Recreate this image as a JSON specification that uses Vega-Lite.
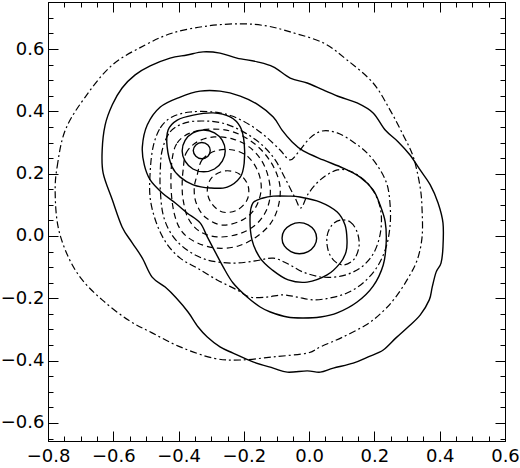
{
"$schema": "https://vega.github.io/schema/vega-lite/v6.json",
"width": 457, "height": 439,
"autosize": "none",
"padding": {"left": 48, "top": 2, "right": 15, "bottom": 27},
"background": "white",
"config": {"view": {"stroke": "black", "strokeWidth": 1},
  "axis": {"grid": false, "title": null, "domainColor": "black", "tickColor": "black", "tickWidth": 1, "labelFont": "DejaVu Sans", "labelFontSize": 18, "labelColor": "black", "labelOverlap": false, "labelFlush": false}},
"data": {"values": [
{"c":"S1","s":"solid","i":0,"x":-0.631,"y":0.202},{"c":"S1","s":"solid","i":1,"x":-0.634,"y":0.276},{"c":"S1","s":"solid","i":2,"x":-0.625,"y":0.356},{"c":"S1","s":"solid","i":3,"x":-0.603,"y":0.421},{"c":"S1","s":"solid","i":4,"x":-0.573,"y":0.475},{"c":"S1","s":"solid","i":5,"x":-0.533,"y":0.517},{"c":"S1","s":"solid","i":6,"x":-0.487,"y":0.546},{"c":"S1","s":"solid","i":7,"x":-0.426,"y":0.571},{"c":"S1","s":"solid","i":8,"x":-0.374,"y":0.581},{"c":"S1","s":"solid","i":9,"x":-0.325,"y":0.591},{"c":"S1","s":"solid","i":10,"x":-0.273,"y":0.587},{"c":"S1","s":"solid","i":11,"x":-0.221,"y":0.571},{"c":"S1","s":"solid","i":12,"x":-0.159,"y":0.559},{"c":"S1","s":"solid","i":13,"x":-0.110,"y":0.543},{"c":"S1","s":"solid","i":14,"x":-0.058,"y":0.507},{"c":"S1","s":"solid","i":15,"x":-0.006,"y":0.491},{"c":"S1","s":"solid","i":16,"x":0.043,"y":0.469},{"c":"S1","s":"solid","i":17,"x":0.095,"y":0.446},{"c":"S1","s":"solid","i":18,"x":0.147,"y":0.427},{"c":"S1","s":"solid","i":19,"x":0.196,"y":0.395},{"c":"S1","s":"solid","i":20,"x":0.233,"y":0.340},{"c":"S1","s":"solid","i":21,"x":0.273,"y":0.302},{"c":"S1","s":"solid","i":22,"x":0.309,"y":0.260},{"c":"S1","s":"solid","i":23,"x":0.340,"y":0.212},{"c":"S1","s":"solid","i":24,"x":0.371,"y":0.164},{"c":"S1","s":"solid","i":25,"x":0.395,"y":0.106},{"c":"S1","s":"solid","i":26,"x":0.410,"y":0.042},{"c":"S1","s":"solid","i":27,"x":0.410,"y":-0.035},{"c":"S1","s":"solid","i":28,"x":0.404,"y":-0.087},{"c":"S1","s":"solid","i":29,"x":0.389,"y":-0.116},{"c":"S1","s":"solid","i":30,"x":0.377,"y":-0.164},{"c":"S1","s":"solid","i":31,"x":0.368,"y":-0.205},{"c":"S1","s":"solid","i":32,"x":0.340,"y":-0.254},{"c":"S1","s":"solid","i":33,"x":0.303,"y":-0.292},{"c":"S1","s":"solid","i":34,"x":0.266,"y":-0.327},{"c":"S1","s":"solid","i":35,"x":0.227,"y":-0.366},{"c":"S1","s":"solid","i":36,"x":0.181,"y":-0.388},{"c":"S1","s":"solid","i":37,"x":0.135,"y":-0.408},{"c":"S1","s":"solid","i":38,"x":0.074,"y":-0.424},{"c":"S1","s":"solid","i":39,"x":0.034,"y":-0.437},{"c":"S1","s":"solid","i":40,"x":-0.006,"y":-0.433},{"c":"S1","s":"solid","i":41,"x":-0.067,"y":-0.437},{"c":"S1","s":"solid","i":42,"x":-0.110,"y":-0.424},{"c":"S1","s":"solid","i":43,"x":-0.172,"y":-0.404},{"c":"S1","s":"solid","i":44,"x":-0.233,"y":-0.376},{"c":"S1","s":"solid","i":45,"x":-0.273,"y":-0.356},{"c":"S1","s":"solid","i":46,"x":-0.312,"y":-0.324},{"c":"S1","s":"solid","i":47,"x":-0.340,"y":-0.292},{"c":"S1","s":"solid","i":48,"x":-0.371,"y":-0.244},{"c":"S1","s":"solid","i":49,"x":-0.407,"y":-0.199},{"c":"S1","s":"solid","i":50,"x":-0.441,"y":-0.164},{"c":"S1","s":"solid","i":51,"x":-0.481,"y":-0.132},{"c":"S1","s":"solid","i":52,"x":-0.511,"y":-0.071},{"c":"S1","s":"solid","i":53,"x":-0.542,"y":-0.022},{"c":"S1","s":"solid","i":54,"x":-0.573,"y":0.029},{"c":"S1","s":"solid","i":55,"x":-0.603,"y":0.116},
{"c":"S2","s":"solid","i":0,"x":-0.511,"y":0.286},{"c":"S2","s":"solid","i":1,"x":-0.496,"y":0.356},{"c":"S2","s":"solid","i":2,"x":-0.456,"y":0.414},{"c":"S2","s":"solid","i":3,"x":-0.395,"y":0.446},{"c":"S2","s":"solid","i":4,"x":-0.334,"y":0.465},{"c":"S2","s":"solid","i":5,"x":-0.273,"y":0.465},{"c":"S2","s":"solid","i":6,"x":-0.211,"y":0.449},{"c":"S2","s":"solid","i":7,"x":-0.156,"y":0.421},{"c":"S2","s":"solid","i":8,"x":-0.110,"y":0.382},{"c":"S2","s":"solid","i":9,"x":-0.083,"y":0.340},{"c":"S2","s":"solid","i":10,"x":-0.052,"y":0.302},{"c":"S2","s":"solid","i":11,"x":-0.018,"y":0.273},{"c":"S2","s":"solid","i":12,"x":0.043,"y":0.244},{"c":"S2","s":"solid","i":13,"x":0.104,"y":0.218},{"c":"S2","s":"solid","i":14,"x":0.156,"y":0.189},{"c":"S2","s":"solid","i":15,"x":0.196,"y":0.148},{"c":"S2","s":"solid","i":16,"x":0.217,"y":0.100},{"c":"S2","s":"solid","i":17,"x":0.233,"y":0.045},{"c":"S2","s":"solid","i":18,"x":0.236,"y":-0.022},{"c":"S2","s":"solid","i":19,"x":0.227,"y":-0.093},{"c":"S2","s":"solid","i":20,"x":0.196,"y":-0.161},{"c":"S2","s":"solid","i":21,"x":0.147,"y":-0.212},{"c":"S2","s":"solid","i":22,"x":0.086,"y":-0.247},{"c":"S2","s":"solid","i":23,"x":0.034,"y":-0.260},{"c":"S2","s":"solid","i":24,"x":-0.018,"y":-0.263},{"c":"S2","s":"solid","i":25,"x":-0.067,"y":-0.260},{"c":"S2","s":"solid","i":26,"x":-0.119,"y":-0.244},{"c":"S2","s":"solid","i":27,"x":-0.150,"y":-0.228},{"c":"S2","s":"solid","i":28,"x":-0.190,"y":-0.196},{"c":"S2","s":"solid","i":29,"x":-0.233,"y":-0.151},{"c":"S2","s":"solid","i":30,"x":-0.263,"y":-0.100},{"c":"S2","s":"solid","i":31,"x":-0.288,"y":-0.051},{"c":"S2","s":"solid","i":32,"x":-0.312,"y":-0.003},{"c":"S2","s":"solid","i":33,"x":-0.334,"y":0.042},{"c":"S2","s":"solid","i":34,"x":-0.374,"y":0.074},{"c":"S2","s":"solid","i":35,"x":-0.410,"y":0.106},{"c":"S2","s":"solid","i":36,"x":-0.450,"y":0.138},{"c":"S2","s":"solid","i":37,"x":-0.487,"y":0.180},{"c":"S2","s":"solid","i":38,"x":-0.505,"y":0.228},
{"c":"S3","s":"solid","i":0,"x":-0.435,"y":0.286},{"c":"S3","s":"solid","i":1,"x":-0.432,"y":0.340},{"c":"S3","s":"solid","i":2,"x":-0.404,"y":0.372},{"c":"S3","s":"solid","i":3,"x":-0.355,"y":0.388},{"c":"S3","s":"solid","i":4,"x":-0.294,"y":0.395},{"c":"S3","s":"solid","i":5,"x":-0.242,"y":0.382},{"c":"S3","s":"solid","i":6,"x":-0.211,"y":0.350},{"c":"S3","s":"solid","i":7,"x":-0.199,"y":0.299},{"c":"S3","s":"solid","i":8,"x":-0.199,"y":0.234},{"c":"S3","s":"solid","i":9,"x":-0.211,"y":0.189},{"c":"S3","s":"solid","i":10,"x":-0.251,"y":0.157},{"c":"S3","s":"solid","i":11,"x":-0.303,"y":0.154},{"c":"S3","s":"solid","i":12,"x":-0.355,"y":0.164},{"c":"S3","s":"solid","i":13,"x":-0.395,"y":0.189},{"c":"S3","s":"solid","i":14,"x":-0.420,"y":0.222},
{"c":"S4","s":"solid","i":0,"x":-0.257,"y":0.273},{"c":"S4","s":"solid","i":1,"x":-0.266,"y":0.307},{"c":"S4","s":"solid","i":2,"x":-0.290,"y":0.331},{"c":"S4","s":"solid","i":3,"x":-0.323,"y":0.340},{"c":"S4","s":"solid","i":4,"x":-0.356,"y":0.331},{"c":"S4","s":"solid","i":5,"x":-0.380,"y":0.307},{"c":"S4","s":"solid","i":6,"x":-0.389,"y":0.273},{"c":"S4","s":"solid","i":7,"x":-0.380,"y":0.240},{"c":"S4","s":"solid","i":8,"x":-0.356,"y":0.215},{"c":"S4","s":"solid","i":9,"x":-0.323,"y":0.206},{"c":"S4","s":"solid","i":10,"x":-0.290,"y":0.215},{"c":"S4","s":"solid","i":11,"x":-0.266,"y":0.240},
{"c":"S5","s":"solid","i":0,"x":-0.303,"y":0.274},{"c":"S5","s":"solid","i":1,"x":-0.310,"y":0.292},{"c":"S5","s":"solid","i":2,"x":-0.329,"y":0.300},{"c":"S5","s":"solid","i":3,"x":-0.347,"y":0.292},{"c":"S5","s":"solid","i":4,"x":-0.355,"y":0.274},{"c":"S5","s":"solid","i":5,"x":-0.347,"y":0.256},{"c":"S5","s":"solid","i":6,"x":-0.329,"y":0.248},{"c":"S5","s":"solid","i":7,"x":-0.310,"y":0.256},
{"c":"S6","s":"solid","i":0,"x":-0.181,"y":0.061},{"c":"S6","s":"solid","i":1,"x":-0.172,"y":0.106},{"c":"S6","s":"solid","i":2,"x":-0.141,"y":0.122},{"c":"S6","s":"solid","i":3,"x":-0.110,"y":0.128},{"c":"S6","s":"solid","i":4,"x":-0.064,"y":0.128},{"c":"S6","s":"solid","i":5,"x":-0.028,"y":0.125},{"c":"S6","s":"solid","i":6,"x":0.034,"y":0.109},{"c":"S6","s":"solid","i":7,"x":0.086,"y":0.077},{"c":"S6","s":"solid","i":8,"x":0.110,"y":0.035},{"c":"S6","s":"solid","i":9,"x":0.116,"y":-0.013},{"c":"S6","s":"solid","i":10,"x":0.113,"y":-0.051},{"c":"S6","s":"solid","i":11,"x":0.095,"y":-0.087},{"c":"S6","s":"solid","i":12,"x":0.055,"y":-0.125},{"c":"S6","s":"solid","i":13,"x":-0.006,"y":-0.148},{"c":"S6","s":"solid","i":14,"x":-0.064,"y":-0.141},{"c":"S6","s":"solid","i":15,"x":-0.113,"y":-0.109},{"c":"S6","s":"solid","i":16,"x":-0.150,"y":-0.071},{"c":"S6","s":"solid","i":17,"x":-0.175,"y":-0.013},
{"c":"S7","s":"solid","i":0,"x":0.023,"y":-0.007},{"c":"S7","s":"solid","i":1,"x":0.016,"y":0.018},{"c":"S7","s":"solid","i":2,"x":-0.003,"y":0.036},{"c":"S7","s":"solid","i":3,"x":-0.030,"y":0.043},{"c":"S7","s":"solid","i":4,"x":-0.056,"y":0.036},{"c":"S7","s":"solid","i":5,"x":-0.076,"y":0.018},{"c":"S7","s":"solid","i":6,"x":-0.083,"y":-0.007},{"c":"S7","s":"solid","i":7,"x":-0.076,"y":-0.032},{"c":"S7","s":"solid","i":8,"x":-0.056,"y":-0.050},{"c":"S7","s":"solid","i":9,"x":-0.030,"y":-0.057},{"c":"S7","s":"solid","i":10,"x":-0.003,"y":-0.050},{"c":"S7","s":"solid","i":11,"x":0.016,"y":-0.032},
{"c":"D1","s":"dashdot","i":0,"x":-0.778,"y":0.138},{"c":"D1","s":"dashdot","i":1,"x":-0.772,"y":0.222},{"c":"D1","s":"dashdot","i":2,"x":-0.747,"y":0.340},{"c":"D1","s":"dashdot","i":3,"x":-0.686,"y":0.446},{"c":"D1","s":"dashdot","i":4,"x":-0.603,"y":0.549},{"c":"D1","s":"dashdot","i":5,"x":-0.502,"y":0.613},{"c":"D1","s":"dashdot","i":6,"x":-0.417,"y":0.652},{"c":"D1","s":"dashdot","i":7,"x":-0.312,"y":0.674},{"c":"D1","s":"dashdot","i":8,"x":-0.211,"y":0.681},{"c":"D1","s":"dashdot","i":9,"x":-0.129,"y":0.674},{"c":"D1","s":"dashdot","i":10,"x":-0.058,"y":0.655},{"c":"D1","s":"dashdot","i":11,"x":0.043,"y":0.620},{"c":"D1","s":"dashdot","i":12,"x":0.116,"y":0.565},{"c":"D1","s":"dashdot","i":13,"x":0.196,"y":0.491},{"c":"D1","s":"dashdot","i":14,"x":0.248,"y":0.404},{"c":"D1","s":"dashdot","i":15,"x":0.288,"y":0.324},{"c":"D1","s":"dashdot","i":16,"x":0.319,"y":0.254},{"c":"D1","s":"dashdot","i":17,"x":0.340,"y":0.157},{"c":"D1","s":"dashdot","i":18,"x":0.346,"y":0.083},{"c":"D1","s":"dashdot","i":19,"x":0.346,"y":-0.003},{"c":"D1","s":"dashdot","i":20,"x":0.331,"y":-0.077},{"c":"D1","s":"dashdot","i":21,"x":0.300,"y":-0.141},{"c":"D1","s":"dashdot","i":22,"x":0.263,"y":-0.199},{"c":"D1","s":"dashdot","i":23,"x":0.227,"y":-0.241},{"c":"D1","s":"dashdot","i":24,"x":0.178,"y":-0.283},{"c":"D1","s":"dashdot","i":25,"x":0.104,"y":-0.324},{"c":"D1","s":"dashdot","i":26,"x":0.034,"y":-0.356},{"c":"D1","s":"dashdot","i":27,"x":-0.006,"y":-0.376},{"c":"D1","s":"dashdot","i":28,"x":-0.110,"y":-0.388},{"c":"D1","s":"dashdot","i":29,"x":-0.211,"y":-0.398},{"c":"D1","s":"dashdot","i":30,"x":-0.294,"y":-0.392},{"c":"D1","s":"dashdot","i":31,"x":-0.395,"y":-0.356},{"c":"D1","s":"dashdot","i":32,"x":-0.481,"y":-0.311},{"c":"D1","s":"dashdot","i":33,"x":-0.554,"y":-0.270},{"c":"D1","s":"dashdot","i":34,"x":-0.634,"y":-0.205},{"c":"D1","s":"dashdot","i":35,"x":-0.695,"y":-0.141},{"c":"D1","s":"dashdot","i":36,"x":-0.738,"y":-0.067},{"c":"D1","s":"dashdot","i":37,"x":-0.769,"y":0.029},
{"c":"N2","s":"dashdot","i":0,"x":-0.478,"y":0.286},{"c":"N2","s":"dashdot","i":1,"x":-0.456,"y":0.347},{"c":"N2","s":"dashdot","i":2,"x":-0.420,"y":0.382},{"c":"N2","s":"dashdot","i":3,"x":-0.364,"y":0.398},{"c":"N2","s":"dashdot","i":4,"x":-0.294,"y":0.398},{"c":"N2","s":"dashdot","i":5,"x":-0.236,"y":0.385},{"c":"N2","s":"dashdot","i":6,"x":-0.181,"y":0.356},{"c":"N2","s":"dashdot","i":7,"x":-0.135,"y":0.321},{"c":"N2","s":"dashdot","i":8,"x":-0.089,"y":0.276},{"c":"N2","s":"dashdot","i":9,"x":-0.058,"y":0.244},{"c":"N2","s":"dashdot","i":10,"x":-0.028,"y":0.276},{"c":"N2","s":"dashdot","i":11,"x":0.003,"y":0.315},{"c":"N2","s":"dashdot","i":12,"x":0.040,"y":0.337},{"c":"N2","s":"dashdot","i":13,"x":0.086,"y":0.331},{"c":"N2","s":"dashdot","i":14,"x":0.135,"y":0.302},{"c":"N2","s":"dashdot","i":15,"x":0.178,"y":0.266},{"c":"N2","s":"dashdot","i":16,"x":0.214,"y":0.218},{"c":"N2","s":"dashdot","i":17,"x":0.239,"y":0.164},{"c":"N2","s":"dashdot","i":18,"x":0.248,"y":0.100},{"c":"N2","s":"dashdot","i":19,"x":0.248,"y":0.035},{"c":"N2","s":"dashdot","i":20,"x":0.236,"y":-0.035},{"c":"N2","s":"dashdot","i":21,"x":0.208,"y":-0.100},{"c":"N2","s":"dashdot","i":22,"x":0.165,"y":-0.151},{"c":"N2","s":"dashdot","i":23,"x":0.116,"y":-0.183},{"c":"N2","s":"dashdot","i":24,"x":0.064,"y":-0.199},{"c":"N2","s":"dashdot","i":25,"x":0.012,"y":-0.205},{"c":"N2","s":"dashdot","i":26,"x":-0.037,"y":-0.196},{"c":"N2","s":"dashdot","i":27,"x":-0.080,"y":-0.189},{"c":"N2","s":"dashdot","i":28,"x":-0.129,"y":-0.196},{"c":"N2","s":"dashdot","i":29,"x":-0.181,"y":-0.196},{"c":"N2","s":"dashdot","i":30,"x":-0.221,"y":-0.173},{"c":"N2","s":"dashdot","i":31,"x":-0.282,"y":-0.141},{"c":"N2","s":"dashdot","i":32,"x":-0.343,"y":-0.103},{"c":"N2","s":"dashdot","i":33,"x":-0.395,"y":-0.071},{"c":"N2","s":"dashdot","i":34,"x":-0.438,"y":-0.022},{"c":"N2","s":"dashdot","i":35,"x":-0.469,"y":0.045},{"c":"N2","s":"dashdot","i":36,"x":-0.487,"y":0.122},{"c":"N2","s":"dashdot","i":37,"x":-0.487,"y":0.205},
{"c":"L5","s":"dashdot","i":0,"x":-0.450,"y":0.276},{"c":"L5","s":"dashdot","i":1,"x":-0.426,"y":0.334},{"c":"L5","s":"dashdot","i":2,"x":-0.380,"y":0.363},{"c":"L5","s":"dashdot","i":3,"x":-0.319,"y":0.369},{"c":"L5","s":"dashdot","i":4,"x":-0.257,"y":0.360},{"c":"L5","s":"dashdot","i":5,"x":-0.196,"y":0.331},{"c":"L5","s":"dashdot","i":6,"x":-0.144,"y":0.292},{"c":"L5","s":"dashdot","i":7,"x":-0.104,"y":0.244},{"c":"L5","s":"dashdot","i":8,"x":-0.074,"y":0.186},{"c":"L5","s":"dashdot","i":9,"x":-0.043,"y":0.122},{"c":"L5","s":"dashdot","i":10,"x":-0.025,"y":0.090},{"c":"L5","s":"dashdot","i":11,"x":-0.003,"y":0.135},{"c":"L5","s":"dashdot","i":12,"x":0.034,"y":0.180},{"c":"L5","s":"dashdot","i":13,"x":0.086,"y":0.212},{"c":"L5","s":"dashdot","i":14,"x":0.132,"y":0.205},{"c":"L5","s":"dashdot","i":15,"x":0.178,"y":0.170},{"c":"L5","s":"dashdot","i":16,"x":0.208,"y":0.122},{"c":"L5","s":"dashdot","i":17,"x":0.221,"y":0.067},{"c":"L5","s":"dashdot","i":18,"x":0.217,"y":0.003},{"c":"L5","s":"dashdot","i":19,"x":0.196,"y":-0.058},{"c":"L5","s":"dashdot","i":20,"x":0.156,"y":-0.103},{"c":"L5","s":"dashdot","i":21,"x":0.101,"y":-0.128},{"c":"L5","s":"dashdot","i":22,"x":0.040,"y":-0.132},{"c":"L5","s":"dashdot","i":23,"x":-0.018,"y":-0.116},{"c":"L5","s":"dashdot","i":24,"x":-0.064,"y":-0.090},{"c":"L5","s":"dashdot","i":25,"x":-0.110,"y":-0.071},{"c":"L5","s":"dashdot","i":26,"x":-0.165,"y":-0.080},{"c":"L5","s":"dashdot","i":27,"x":-0.233,"y":-0.087},{"c":"L5","s":"dashdot","i":28,"x":-0.312,"y":-0.077},{"c":"L5","s":"dashdot","i":29,"x":-0.374,"y":-0.045},{"c":"L5","s":"dashdot","i":30,"x":-0.420,"y":0.003},{"c":"L5","s":"dashdot","i":31,"x":-0.447,"y":0.067},{"c":"L5","s":"dashdot","i":32,"x":-0.456,"y":0.148},{"c":"L5","s":"dashdot","i":33,"x":-0.456,"y":0.212},
{"c":"L4","s":"dash","i":0,"x":-0.420,"y":0.244},{"c":"L4","s":"dash","i":1,"x":-0.404,"y":0.299},{"c":"L4","s":"dash","i":2,"x":-0.364,"y":0.331},{"c":"L4","s":"dash","i":3,"x":-0.303,"y":0.343},{"c":"L4","s":"dash","i":4,"x":-0.242,"y":0.337},{"c":"L4","s":"dash","i":5,"x":-0.187,"y":0.311},{"c":"L4","s":"dash","i":6,"x":-0.141,"y":0.270},{"c":"L4","s":"dash","i":7,"x":-0.107,"y":0.218},{"c":"L4","s":"dash","i":8,"x":-0.089,"y":0.157},{"c":"L4","s":"dash","i":9,"x":-0.095,"y":0.093},{"c":"L4","s":"dash","i":10,"x":-0.119,"y":0.039},{"c":"L4","s":"dash","i":11,"x":-0.162,"y":-0.003},{"c":"L4","s":"dash","i":12,"x":-0.217,"y":-0.032},{"c":"L4","s":"dash","i":13,"x":-0.282,"y":-0.039},{"c":"L4","s":"dash","i":14,"x":-0.343,"y":-0.022},{"c":"L4","s":"dash","i":15,"x":-0.389,"y":0.013},{"c":"L4","s":"dash","i":16,"x":-0.413,"y":0.071},{"c":"L4","s":"dash","i":17,"x":-0.423,"y":0.154},
{"c":"L3","s":"dash","i":0,"x":-0.386,"y":0.212},{"c":"L3","s":"dash","i":1,"x":-0.377,"y":0.266},{"c":"L3","s":"dash","i":2,"x":-0.343,"y":0.302},{"c":"L3","s":"dash","i":3,"x":-0.291,"y":0.318},{"c":"L3","s":"dash","i":4,"x":-0.233,"y":0.311},{"c":"L3","s":"dash","i":5,"x":-0.184,"y":0.286},{"c":"L3","s":"dash","i":6,"x":-0.147,"y":0.244},{"c":"L3","s":"dash","i":7,"x":-0.126,"y":0.193},{"c":"L3","s":"dash","i":8,"x":-0.119,"y":0.135},{"c":"L3","s":"dash","i":9,"x":-0.132,"y":0.080},{"c":"L3","s":"dash","i":10,"x":-0.165,"y":0.035},{"c":"L3","s":"dash","i":11,"x":-0.217,"y":0.006},{"c":"L3","s":"dash","i":12,"x":-0.282,"y":-0.003},{"c":"L3","s":"dash","i":13,"x":-0.337,"y":0.016},{"c":"L3","s":"dash","i":14,"x":-0.371,"y":0.058},{"c":"L3","s":"dash","i":15,"x":-0.386,"y":0.116},{"c":"L3","s":"dash","i":16,"x":-0.389,"y":0.164},
{"c":"L2","s":"dash","i":0,"x":-0.343,"y":0.196},{"c":"L2","s":"dash","i":1,"x":-0.328,"y":0.244},{"c":"L2","s":"dash","i":2,"x":-0.288,"y":0.273},{"c":"L2","s":"dash","i":3,"x":-0.233,"y":0.276},{"c":"L2","s":"dash","i":4,"x":-0.187,"y":0.254},{"c":"L2","s":"dash","i":5,"x":-0.156,"y":0.205},{"c":"L2","s":"dash","i":6,"x":-0.147,"y":0.148},{"c":"L2","s":"dash","i":7,"x":-0.165,"y":0.090},{"c":"L2","s":"dash","i":8,"x":-0.205,"y":0.051},{"c":"L2","s":"dash","i":9,"x":-0.266,"y":0.035},{"c":"L2","s":"dash","i":10,"x":-0.319,"y":0.061},{"c":"L2","s":"dash","i":11,"x":-0.346,"y":0.106},{"c":"L2","s":"dash","i":12,"x":-0.352,"y":0.154},
{"c":"L1","s":"dash","i":0,"x":-0.297,"y":0.189},{"c":"L1","s":"dash","i":1,"x":-0.257,"y":0.209},{"c":"L1","s":"dash","i":2,"x":-0.214,"y":0.199},{"c":"L1","s":"dash","i":3,"x":-0.187,"y":0.161},{"c":"L1","s":"dash","i":4,"x":-0.190,"y":0.116},{"c":"L1","s":"dash","i":5,"x":-0.221,"y":0.083},{"c":"L1","s":"dash","i":6,"x":-0.266,"y":0.077},{"c":"L1","s":"dash","i":7,"x":-0.300,"y":0.106},{"c":"L1","s":"dash","i":8,"x":-0.312,"y":0.148},
{"c":"R1","s":"dashdot","i":0,"x":0.095,"y":0.051},{"c":"R1","s":"dashdot","i":1,"x":0.126,"y":0.045},{"c":"R1","s":"dashdot","i":2,"x":0.147,"y":0.013},{"c":"R1","s":"dashdot","i":3,"x":0.153,"y":-0.032},{"c":"R1","s":"dashdot","i":4,"x":0.138,"y":-0.074},{"c":"R1","s":"dashdot","i":5,"x":0.107,"y":-0.093},{"c":"R1","s":"dashdot","i":6,"x":0.077,"y":-0.080},{"c":"R1","s":"dashdot","i":7,"x":0.058,"y":-0.045},{"c":"R1","s":"dashdot","i":8,"x":0.055,"y":0.000},{"c":"R1","s":"dashdot","i":9,"x":0.070,"y":0.035}
]},
"layer": [
 {"transform": [{"filter": "datum.s == 'solid'"}],
  "mark": {"type": "line", "interpolate": "cardinal-closed", "color": "black", "strokeWidth": 1.4},
  "encoding": {
   "x": {"field": "x", "type": "quantitative", "scale": {"domain": [-0.8, 0.6], "nice": false, "zero": false},
     "axis": {"orient": "bottom", "values": [-0.8,-0.75,-0.7,-0.65,-0.6,-0.55,-0.5,-0.45,-0.4,-0.35,-0.3,-0.25,-0.2,-0.15,-0.1,-0.05,0,0.05,0.1,0.15,0.2,0.25,0.3,0.35,0.4,0.45,0.5,0.55,0.6],
       "tickSize": {"condition": {"test": "abs(round(datum.value*20)) % 4 == 0", "value": -10}, "value": -5},
       "labelPadding": 16,
       "labelExpr": "abs(round(datum.value*20)) % 4 == 0 ? format(datum.value, '.1f') : ''"}},
   "y": {"field": "y", "type": "quantitative", "scale": {"domain": [-0.658, 0.751], "nice": false, "zero": false},
     "axis": {"orient": "left", "values": [-0.65,-0.6,-0.55,-0.5,-0.45,-0.4,-0.35,-0.3,-0.25,-0.2,-0.15,-0.1,-0.05,0,0.05,0.1,0.15,0.2,0.25,0.3,0.35,0.4,0.45,0.5,0.55,0.6,0.65,0.7,0.75],
       "tickSize": {"condition": {"test": "abs(round(datum.value*20)) % 4 == 0", "value": -10}, "value": -5},
       "labelPadding": 14,
       "labelExpr": "abs(round(datum.value*20)) % 4 == 0 ? format(datum.value, '.1f') : ''"}},
   "detail": {"field": "c"},
   "order": {"field": "i"}
  }},
 {"transform": [{"filter": "datum.s != 'solid'"}],
  "mark": {"type": "line", "interpolate": "cardinal-closed", "color": "black", "strokeWidth": 1.2},
  "encoding": {
   "x": {"field": "x", "type": "quantitative", "scale": {"domain": [-0.8, 0.6], "nice": false, "zero": false},
     "axis": {"orient": "top", "labels": false, "values": [-0.8,-0.75,-0.7,-0.65,-0.6,-0.55,-0.5,-0.45,-0.4,-0.35,-0.3,-0.25,-0.2,-0.15,-0.1,-0.05,0,0.05,0.1,0.15,0.2,0.25,0.3,0.35,0.4,0.45,0.5,0.55,0.6],
       "tickSize": {"condition": {"test": "abs(round(datum.value*20)) % 4 == 0", "value": -10}, "value": -5}}},
   "y": {"field": "y", "type": "quantitative", "scale": {"domain": [-0.658, 0.751], "nice": false, "zero": false},
     "axis": {"orient": "right", "labels": false, "values": [-0.65,-0.6,-0.55,-0.5,-0.45,-0.4,-0.35,-0.3,-0.25,-0.2,-0.15,-0.1,-0.05,0,0.05,0.1,0.15,0.2,0.25,0.3,0.35,0.4,0.45,0.5,0.55,0.6,0.65,0.7,0.75],
       "tickSize": {"condition": {"test": "abs(round(datum.value*20)) % 4 == 0", "value": -10}, "value": -5}}},
   "detail": {"field": "c"},
   "order": {"field": "i"},
   "strokeDash": {"field": "s", "type": "nominal", "scale": {"domain": ["dash", "dashdot"], "range": [[6, 4], [7, 3, 2, 3]]}, "legend": null}
  }}
],
"resolve": {"axis": {"x": "independent", "y": "independent"}}
}
